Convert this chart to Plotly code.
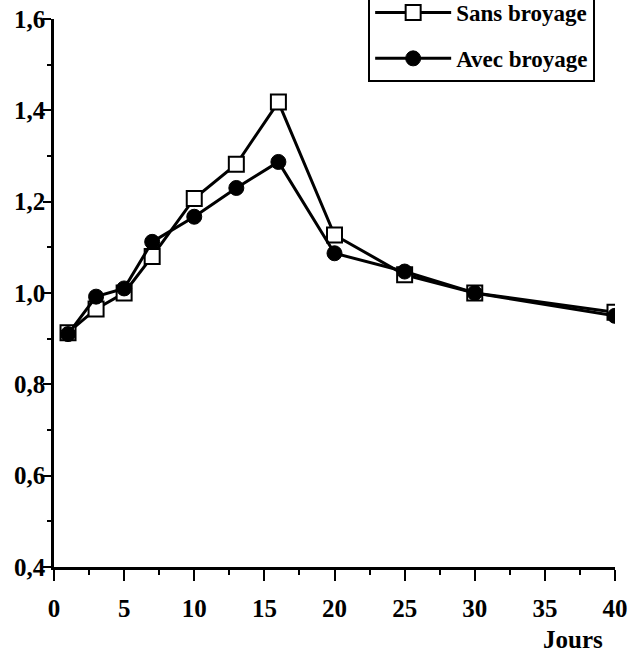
import plotly.graph_objects as go

jours = [1, 3, 5, 7, 10, 13, 16, 20, 25, 30, 40]
sans_broyage = [0.913, 0.965, 1.0, 1.08, 1.207, 1.282, 1.418, 1.127, 1.04, 1.0, 0.958]
avec_broyage = [0.91, 0.992, 1.01, 1.112, 1.167, 1.23, 1.287, 1.087, 1.047, 1.0, 0.95]
x_ticks = [0, 5, 10, 15, 20, 25, 30, 35, 40]
y_ticks = [0.4, 0.6, 0.8, 1.0, 1.2, 1.4, 1.6]
y_tick_labels = ["0,4", "0,6", "0,8", "1,0", "1,2", "1,4", "1,6"]

FONT = "Liberation Serif"

fig = go.Figure()
fig.add_trace(go.Scatter(
    x=jours, y=sans_broyage, name="Sans broyage", mode="lines+markers",
    legendgroup="a",
    line=dict(color="black", width=3),
    marker=dict(symbol="square", size=15, color="white", line=dict(color="black", width=2)),
))
fig.add_trace(go.Scatter(
    x=jours, y=avec_broyage, name="Avec broyage", mode="lines+markers",
    legendgroup="b",
    line=dict(color="black", width=3),
    marker=dict(symbol="circle", size=15, color="black", line=dict(color="black", width=1)),
))

fig.update_layout(
    width=636, height=652,
    margin=dict(l=54, r=21, t=19, b=85, autoexpand=False),
    paper_bgcolor="white", plot_bgcolor="white",
    font=dict(family=FONT, size=22, color="black", weight="bold"),
    showlegend=True,
    legend=dict(
        x=0.56, xanchor="left", y=0.885, yanchor="bottom",
        bordercolor="black", borderwidth=2, bgcolor="white",
        tracegroupgap=13, traceorder="grouped", itemwidth=76,
        font=dict(family=FONT, size=23, color="black", weight="bold"),
    ),
    xaxis=dict(
        range=[0, 40], tickvals=x_ticks, showgrid=False, zeroline=False,
        showline=True, linecolor="black", linewidth=2.5,
        ticks="outside", ticklen=11, tickwidth=2, tickcolor="black",
        ticklabelstandoff=6,
        minor=dict(dtick=2.5, ticks="outside", ticklen=5, tickwidth=2, tickcolor="black"),
        tickfont=dict(family=FONT, size=25, color="black", weight="bold"),
    ),
    yaxis=dict(
        range=[0.4, 1.6], tickvals=y_ticks, ticktext=y_tick_labels,
        showgrid=False, zeroline=False,
        showline=True, linecolor="black", linewidth=2.5,
        ticks="outside", ticklen=8, tickwidth=2, tickcolor="black",
        ticklabelstandoff=-7,
        minor=dict(dtick=0.1, ticks="outside", ticklen=4, tickwidth=2, tickcolor="black"),
        tickfont=dict(family=FONT, size=25, color="black", weight="bold"),
    ),
    annotations=[dict(
        text="Jours", xref="paper", yref="paper", x=0.982, y=-0.133,
        xanchor="right", yanchor="middle", showarrow=False,
        font=dict(family=FONT, size=25, color="black", weight="bold"),
    )],
)

fig.write_html("out.html")
